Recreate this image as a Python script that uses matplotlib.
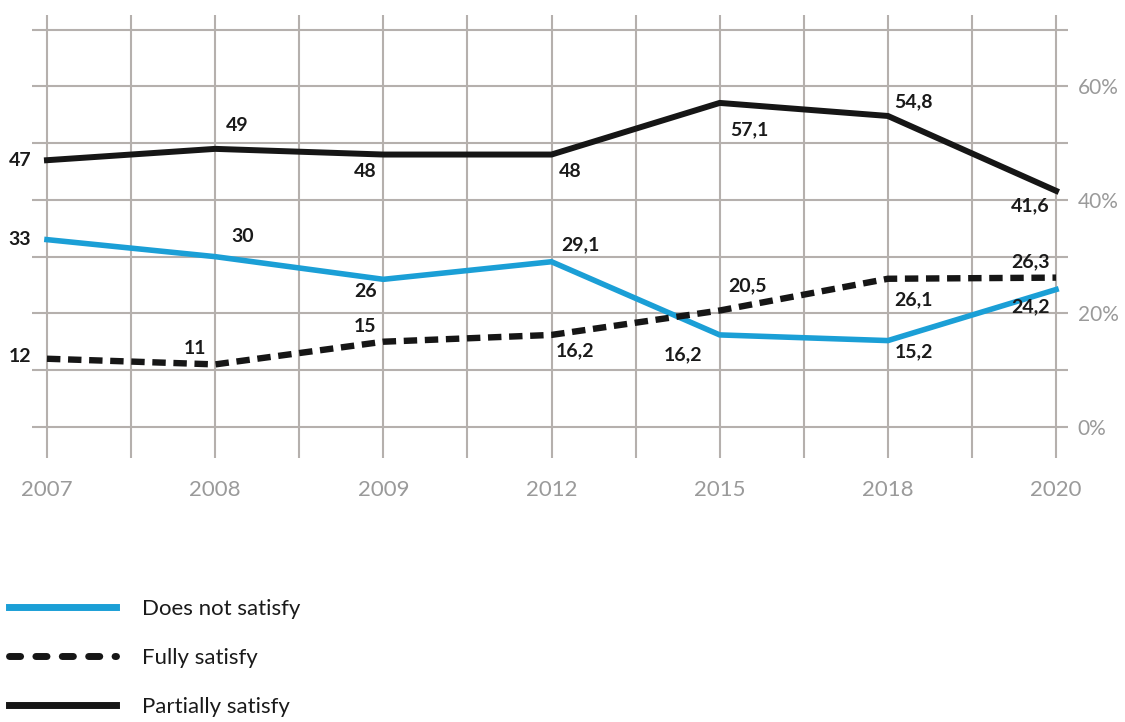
import numpy as np
import matplotlib.pyplot as plt
from matplotlib.lines import Line2D

plt.rcParams['font.family'] = ['Lato', 'DejaVu Sans']

years = ['2007', '2008', '2009', '2012', '2015', '2018', '2020']
does_not = [33, 30, 26, 29.1, 16.2, 15.2, 24.2]
fully = [12, 11, 15, 16.2, 20.5, 26.1, 26.3]
partially = [47, 49, 48, 48, 57.1, 54.8, 41.6]

# label offsets in pixels (dx, dy), y up
off_does_not = [(-27, 0), (28, 20), (-18, -12), (29, 17), (-37, -20), (26, -11), (-26, -17)]
off_fully = [(-27, 2), (-20, 16), (-18, 15), (24, -16), (28, 25), (26, -21), (-26, 16)]
off_partially = [(-27, 0), (22, 23), (-18, -17), (19, -17), (30, -27), (26, 14), (-26, -15)]

blue = '#1b9fd6'
grid_c = '#b5b0ad'
tick_c = '#9a9a9a'


def fmt(v):
    s = f"{v:g}"
    return s.replace('.', ',')


fig = plt.figure(figsize=(11.25, 7.22), dpi=100)
ax = fig.add_axes([32 / 1125, 1 - 458 / 722, 1036 / 1125, 443 / 722])

x = np.arange(len(years))
ax.plot(x, does_not, color=blue, lw=4.0, solid_joinstyle='miter', zorder=3)
ax.plot(x, fully, color='#161616', lw=4.6, dashes=(2.1, 1.2), dash_capstyle='butt', zorder=3)
ax.plot(x, partially, color='#161616', lw=4.3, solid_joinstyle='miter', zorder=3)

for vals, offs in [(does_not, off_does_not), (fully, off_fully), (partially, off_partially)]:
    for xi, v, (dx, dy) in zip(x, vals, offs):
        ax.annotate(fmt(v), (xi, v), xytext=(dx, dy), textcoords='offset pixels',
                    ha='center', va='center', fontsize=14, fontweight='bold',
                    color='#1a1a1a', zorder=4)

ax.set_xlim(-0.089, 6.071)
ax.set_ylim(-5.5, 72.6)

ax.set_xticks(x)
ax.set_xticklabels(years)
ax.set_xticks(np.arange(0.5, 6, 1), minor=True)
ax.set_yticks([0, 20, 40, 60])
ax.set_yticklabels(['0%', '20%', '40%', '60%'])
ax.set_yticks([10, 30, 50, 70], minor=True)

ax.grid(True, which='both', color=grid_c, lw=1.5)
ax.set_axisbelow(True)
for s in ax.spines.values():
    s.set_visible(False)

ax.yaxis.tick_right()
ax.tick_params(axis='both', which='both', length=0)
ax.tick_params(axis='x', labelsize=16, labelcolor=tick_c, pad=16)
ax.tick_params(axis='y', labelsize=15, labelcolor=tick_c, pad=7)

handles = [
    Line2D([], [], color=blue, lw=5),
    Line2D([], [], color='#161616', lw=5, dashes=(1.6, 2.2), dash_capstyle='round'),
    Line2D([], [], color='#161616', lw=5),
]
labels = ['Does not satisfy', 'Fully satisfy', 'Partially satisfy']
fig.legend(handles, labels, loc='upper left', bbox_to_anchor=(0.0, 1 - 590 / 722),
           frameon=False, fontsize=16, handlelength=4.8, handletextpad=1.2,
           labelspacing=1.3, borderaxespad=0, labelcolor='#1a1a1a')

fig.savefig('out.png', dpi=100)
